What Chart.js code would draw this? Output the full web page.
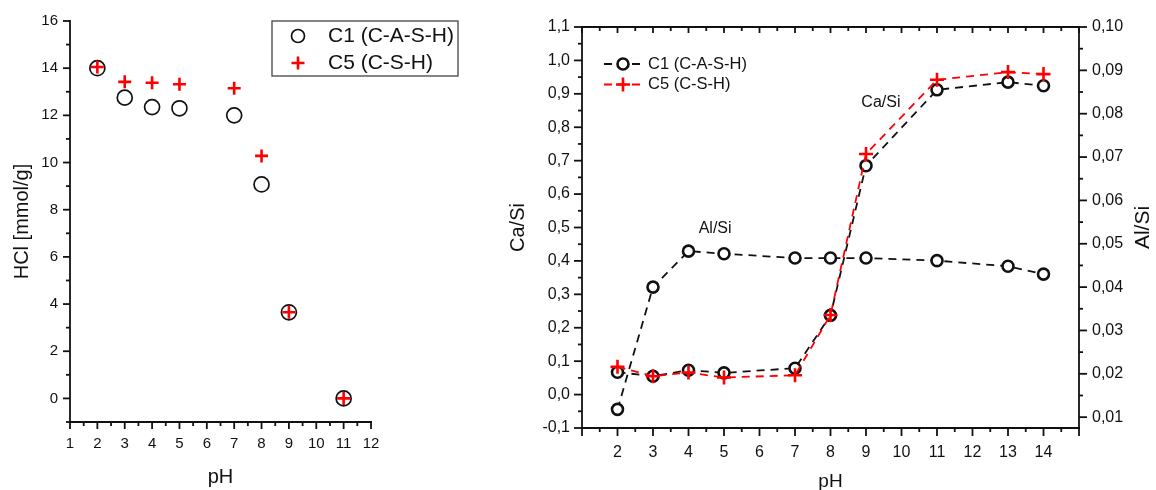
<!DOCTYPE html>
<html>
<head>
<meta charset="utf-8">
<script src="https://cdn.jsdelivr.net/npm/chart.js@4.4.1/dist/chart.umd.min.js"></script>
<style>
  html, body { margin: 0; padding: 0; background: #fff; }
  #wrapA { position: absolute; left: 0; top: 0; width: 490px; height: 490px; }
  #wrapB { position: absolute; left: 500px; top: 0; width: 656px; height: 490px; }
</style>
</head>
<body>
<div id="wrapA"><canvas id="chartA" width="490" height="490"></canvas></div>
<div id="wrapB"><canvas id="chartB" width="656" height="490"></canvas></div>
<script>
// left panel: HCl uptake vs pH
var phA = [2, 3, 4, 5, 7, 8, 9, 11];
var hclC1 = [14.0, 12.75, 12.35, 12.3, 12.0, 9.07, 3.65, 0.0];
var hclC5 = [14.05, 13.42, 13.38, 13.32, 13.15, 10.28, 3.65, 0.0];
var ticksAx = [1, 2, 3, 4, 5, 6, 7, 8, 9, 10, 11, 12];
var ticksAy = [0, 2, 4, 6, 8, 10, 12, 14, 16];

// right panel: Ca/Si and Al/Si vs pH
var phB = [2, 3, 4, 5, 7, 8, 9, 11, 13, 14];
var caSiC1 = [0.067, 0.055, 0.073, 0.065, 0.079, 0.237, 0.685, 0.912, 0.935, 0.924];
var caSiC5 = [0.083, 0.055, 0.066, 0.051, 0.058, 0.238, 0.720, 0.942, 0.965, 0.959];
var alSiC1 = [0.0118, 0.0400, 0.0483, 0.0477, 0.0467, 0.0467, 0.0467, 0.0461, 0.0448, 0.0430];
var ticksBx = [2, 3, 4, 5, 6, 7, 8, 9, 10, 11, 12, 13, 14];
var ticksBy = [-0.1, 0, 0.1, 0.2, 0.3, 0.4, 0.5, 0.6, 0.7, 0.8, 0.9, 1.0, 1.1];
var ticksBy2 = [0.01, 0.02, 0.03, 0.04, 0.05, 0.06, 0.07, 0.08, 0.09, 0.10];

var seriesNames = ['C1 (C-A-S-H)', 'C5 (C-S-H)'];

var FONT = "'Liberation Sans', Arial, sans-serif";
var INK = '#111';
var RED = '#ff0000';
Chart.defaults.font.family = FONT;
Chart.defaults.color = INK;

function pts(xs, ys) {
  return xs.map(function (x, i) { return { x: x, y: ys[i] }; });
}
function fixedTicks(list) {
  return function (scale) { scale.ticks = list.map(function (v) { return { value: v }; }); };
}
function comma(d) {
  return function (v) { return Number(v).toFixed(d).replace('.', ','); };
}

function drawMarker(ctx, style, x, y, r, color, lw, fill) {
  ctx.save();
  ctx.setLineDash([]);
  ctx.strokeStyle = color;
  ctx.lineWidth = lw;
  ctx.beginPath();
  if (style === 'circle') {
    ctx.arc(x, y, r, 0, Math.PI * 2);
    if (fill) { ctx.fillStyle = fill; ctx.fill(); }
  } else {
    ctx.moveTo(x - r, y); ctx.lineTo(x + r, y);
    ctx.moveTo(x, y - r); ctx.lineTo(x, y + r);
  }
  ctx.stroke();
  ctx.restore();
}

// axis lines + major/minor tick marks, in or out
var frameTicks = {
  id: 'frameTicks',
  afterDraw: function (chart, args, o) {
    var ctx = chart.ctx, a = chart.chartArea;
    ctx.save();
    ctx.strokeStyle = INK;
    ctx.lineWidth = o.width;
    o.sides.forEach(function (s) {
      var scale = chart.scales[s.scale];
      var horiz = s.edge === 'top' || s.edge === 'bottom';
      var pos = a[s.edge];
      ctx.lineCap = 'square';
      ctx.beginPath();
      if (horiz) { ctx.moveTo(a.left, pos); ctx.lineTo(a.right, pos); }
      else { ctx.moveTo(pos, a.top); ctx.lineTo(pos, a.bottom); }
      ctx.stroke();
      ctx.lineCap = 'butt';
      var sign = (s.edge === 'bottom' || s.edge === 'right') ? 1 : -1;
      if (s.inward) sign = -sign;
      var start = Math.ceil(scale.min / s.minor - 1e-6);
      for (var i = start; i * s.minor <= scale.max + 1e-9; i++) {
        var v = i * s.minor;
        var k = v / s.major;
        var len = Math.abs(k - Math.round(k)) < 1e-6 ? s.majorLen : s.minorLen;
        var p = scale.getPixelForValue(v);
        ctx.beginPath();
        if (horiz) { ctx.moveTo(p, pos); ctx.lineTo(p, pos + sign * len); }
        else { ctx.moveTo(pos, p); ctx.lineTo(pos + sign * len, p); }
        ctx.stroke();
      }
    });
    ctx.restore();
  }
};

// legend drawn from the datasets, at a free position
var boxLegend = {
  id: 'boxLegend',
  afterDraw: function (chart, args, o) {
    var ctx = chart.ctx;
    ctx.save();
    if (o.box) {
      ctx.strokeStyle = '#444';
      ctx.lineWidth = 1.3;
      ctx.strokeRect(o.box[0], o.box[1], o.box[2], o.box[3]);
    }
    ctx.font = o.font;
    ctx.textBaseline = 'middle';
    ctx.textAlign = 'left';
    o.rows.forEach(function (idx, i) {
      var ds = chart.data.datasets[idx];
      var y = o.y + i * o.gap;
      if (o.line) {
        ctx.save();
        ctx.strokeStyle = ds.borderColor;
        ctx.lineWidth = ds.borderWidth;
        ctx.setLineDash(ds.borderDash || []);
        ctx.beginPath();
        ctx.moveTo(o.line[0], y); ctx.lineTo(o.line[1], y);
        ctx.stroke();
        ctx.restore();
      }
      drawMarker(ctx, ds.pointStyle, o.markerX, y, o.radius[i], ds.pointBorderColor, ds.pointBorderWidth, o.line ? '#fff' : null);
      ctx.fillStyle = INK;
      ctx.fillText(ds.label, o.textX, y);
    });
    ctx.restore();
  }
};

// in-plot notes and the right-hand title (reads bottom to top)
var notes = {
  id: 'notes',
  afterDraw: function (chart, args, o) {
    if (!o.items) return;
    var ctx = chart.ctx, sx = chart.scales.x, sy = chart.scales.y;
    ctx.save();
    ctx.fillStyle = INK;
    ctx.textAlign = 'center';
    ctx.textBaseline = 'middle';
    ctx.font = o.font;
    o.items.forEach(function (it) {
      ctx.fillText(it.text, sx.getPixelForValue(it.x), sy.getPixelForValue(it.y));
    });
    if (o.sideTitle) {
      var y2 = chart.scales.y2, a = chart.chartArea;
      ctx.translate(y2.right - o.sideTitle.offset, (a.top + a.bottom) / 2);
      ctx.rotate(-Math.PI / 2);
      ctx.font = o.sideTitle.font;
      ctx.fillText(o.sideTitle.text, 0, 0);
    }
    ctx.restore();
  }
};

var noGrid = { display: false, drawTicks: false };

new Chart(document.getElementById('chartA'), {
  type: 'scatter',
  data: {
    datasets: [
      { label: seriesNames[0], data: pts(phA, hclC1), pointStyle: 'circle', pointRadius: 7.5,
        pointBorderWidth: 1.7, pointBorderColor: INK, pointBackgroundColor: 'rgba(0,0,0,0)', order: 1 },
      { label: seriesNames[1], data: pts(phA, hclC5), pointStyle: 'cross', pointRadius: 6.5,
        pointBorderWidth: 2.6, pointBorderColor: RED, pointBackgroundColor: RED, order: 0 }
    ]
  },
  options: {
    responsive: false,
    animation: false,
    layout: { padding: { top: 16, right: 119, left: 0, bottom: 0 } },
    plugins: {
      legend: { display: false },
      tooltip: { enabled: false },
      frameTicks: {
        width: 1.8,
        sides: [
          { scale: 'x', edge: 'bottom', major: 1, minor: 0.5, majorLen: 7, minorLen: 4 },
          { scale: 'y', edge: 'left', major: 2, minor: 1, majorLen: 7, minorLen: 4 }
        ]
      },
      boxLegend: {
        box: [272, 21, 186, 55], font: '21px ' + FONT, rows: [0, 1], y: 36, gap: 27,
        markerX: 298, textX: 328, radius: [6.5, 6.5]
      },
      notes: {}
    },
    scales: {
      x: {
        type: 'linear', min: 1, max: 12,
        afterBuildTicks: fixedTicks(ticksAx),
        afterFit: function (s) { s.height = 68; },
        grid: noGrid, border: { display: false },
        ticks: { padding: 13, font: { size: 15 }, color: INK, autoSkip: false, maxRotation: 0 },
        title: { display: true, text: 'pH', font: { size: 20 }, color: INK, padding: { top: 0, bottom: 1 } }
      },
      y: {
        type: 'linear', min: -1, max: 16,
        afterBuildTicks: fixedTicks(ticksAy),
        afterFit: function (s) { s.width = 70; },
        grid: noGrid, border: { display: false },
        ticks: { padding: 12, font: { size: 15 }, color: INK },
        title: { display: true, text: 'HCl [mmol/g]', font: { size: 20 }, color: INK, padding: { top: 10, bottom: 0 } }
      }
    }
  },
  plugins: [frameTicks, boxLegend, notes]
});

var dash = [8, 6];
new Chart(document.getElementById('chartB'), {
  type: 'scatter',
  data: {
    datasets: [
      { label: seriesNames[1], data: pts(phB, caSiC5), yAxisID: 'y', showLine: true,
        borderColor: RED, borderWidth: 1.8, borderDash: dash,
        pointStyle: 'cross', pointRadius: 7, pointBorderWidth: 2.6, pointBorderColor: RED, pointBackgroundColor: RED, order: 0 },
      { label: seriesNames[0], data: pts(phB, caSiC1), yAxisID: 'y', showLine: true,
        borderColor: INK, borderWidth: 1.8, borderDash: dash,
        pointStyle: 'circle', pointRadius: 5.5, pointBorderWidth: 2.6, pointBorderColor: INK, pointBackgroundColor: '#fff', order: 1 },
      { label: seriesNames[0], data: pts(phB, alSiC1), yAxisID: 'y2', showLine: true,
        borderColor: INK, borderWidth: 1.8, borderDash: dash,
        pointStyle: 'circle', pointRadius: 5.5, pointBorderWidth: 2.6, pointBorderColor: INK, pointBackgroundColor: '#fff', order: 2 }
    ]
  },
  options: {
    responsive: false,
    animation: false,
    layout: { padding: { top: 27, right: 0, left: 0, bottom: 0 } },
    plugins: {
      legend: { display: false },
      tooltip: { enabled: false },
      frameTicks: {
        width: 1.8,
        sides: [
          { scale: 'x', edge: 'bottom', major: 1, minor: 0.5, majorLen: 8, minorLen: 4 },
          { scale: 'x', edge: 'top', inward: true, major: 1, minor: 0.5, majorLen: 6, minorLen: 4 },
          { scale: 'y', edge: 'left', major: 0.1, minor: 0.05, majorLen: 8, minorLen: 4 },
          { scale: 'y2', edge: 'right', major: 0.01, minor: 0.005, majorLen: 8, minorLen: 4 }
        ]
      },
      boxLegend: {
        font: '16.5px ' + FONT, rows: [1, 0], y: 64, gap: 20.5,
        line: [104, 142], markerX: 123, textX: 148, radius: [5.5, 7]
      },
      notes: {
        font: '16px ' + FONT,
        items: [
          { text: 'Al/Si', x: 4.75, y: 0.498 },
          { text: 'Ca/Si', x: 9.42, y: 0.873 }
        ],
        sideTitle: { text: 'Al/Si', font: '21px ' + FONT, offset: 13 }
      }
    },
    scales: {
      x: {
        type: 'linear', min: 1, max: 15,
        afterBuildTicks: fixedTicks(ticksBx),
        afterFit: function (s) { s.height = 62; },
        grid: noGrid, border: { display: false },
        ticks: { padding: 15, font: { size: 16 }, color: INK, autoSkip: false, maxRotation: 0 },
        title: { display: true, text: 'pH', font: { size: 19 }, color: INK, padding: { top: 0, bottom: -3 } }
      },
      y: {
        type: 'linear', position: 'left', min: -0.1, max: 1.1,
        afterBuildTicks: fixedTicks(ticksBy),
        afterFit: function (s) { s.width = 82; },
        grid: noGrid, border: { display: false },
        ticks: { padding: 12, font: { size: 16 }, color: INK, callback: comma(1) },
        title: { display: true, text: 'Ca/Si', font: { size: 20 }, color: INK, padding: { top: 6, bottom: 0 } }
      },
      y2: {
        type: 'linear', position: 'right', min: 0.0075, max: 0.10,
        afterBuildTicks: fixedTicks(ticksBy2),
        afterFit: function (s) { s.width = 77; },
        grid: noGrid, border: { display: false },
        ticks: { padding: 13, font: { size: 16 }, color: INK, callback: comma(2) },
        title: { display: false }
      }
    }
  },
  plugins: [frameTicks, boxLegend, notes]
});
</script>
</body>
</html>
